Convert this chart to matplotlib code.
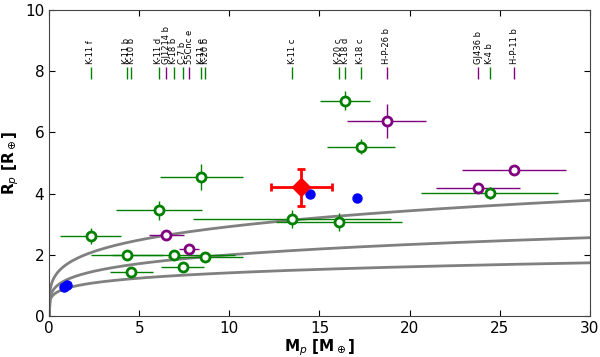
import numpy as np
import matplotlib
matplotlib.use('Agg')
import matplotlib.pyplot as plt

# planets: name, mass [M_earth], radius [R_earth], errors
names = ['K-11 f', 'K-11 b', 'K-10 b', 'K-11 d', 'GJ1214 b', 'K-18 b', 'C-7 b', '55Cnc e',
         'K-11 e', 'K-20 b', 'K-11 c', 'K-20 c', 'K-18 d', 'K-18 c', 'H-P-26 b',
         'GJ436 b', 'K-4 b', 'H-P-11 b']
mass = [2.3, 4.3, 4.55, 6.08, 6.5, 6.9, 7.41, 7.78, 8.43, 8.67, 13.48, 16.08, 16.42,
        17.3, 18.73, 23.8, 24.46, 25.8]
radius = [2.61, 1.98, 1.43, 3.45, 2.66, 2.0, 1.6, 2.2, 4.55, 1.93, 3.17, 3.08, 7.03,
          5.53, 6.37, 4.17, 4.03, 4.76]
mass_err = [1.7, 2.0, 1.2, 2.4, 0.98, 3.4, 1.2, 0.55, 2.3, 2.1, 5.5, 3.5, 1.4, 1.9,
            2.2, 2.35, 3.8, 2.9]
radius_err = [0.25, 0.05, 0.03, 0.3, 0.05, 0.1, 0.1, 0.1, 0.42, 0.1, 0.3, 0.3, 0.31,
              0.25, 0.56, 0.1, 0.2, 0.1]
# g = Kepler/CoRoT (green), p = ground based (purple)
kind = ['g', 'g', 'g', 'g', 'p', 'g', 'g', 'p', 'g', 'g', 'g', 'g', 'g', 'g', 'p',
        'p', 'g', 'p']

# solar system planets (Venus, Earth, Uranus, Neptune)
ss_mass = [0.815, 1.0, 14.5, 17.1]
ss_radius = [0.95, 1.0, 4.0, 3.87]

# new planet
new_mass = 14.0
new_mass_err = 1.7
new_radius = 4.2
new_radius_err = 0.6

# composition curves, R = a * M**b
curve_a = [1.70, 1.19, 0.91]
curve_b = [0.235, 0.225, 0.19]

colors = {'g': 'green', 'p': 'purple'}

fig = plt.figure(figsize=(6.0, 3.57), dpi=100)
ax = fig.add_axes([0.082, 0.115, 0.901, 0.857])

m = np.linspace(0, 30, 600)
for a, b in zip(curve_a, curve_b):
    ax.plot(m, a * m**b, color='gray', lw=2, zorder=1)

for i in range(len(names)):
    c = colors[kind[i]]
    ax.errorbar(mass[i], radius[i], xerr=mass_err[i], yerr=radius_err[i], fmt='o',
                color=c, ecolor=c, elinewidth=1, capsize=0, mfc='white', mec=c,
                mew=2, ms=6.5, zorder=3)
    ax.plot(mass[i], 7.95, '|', color=c, ms=8, mew=1, zorder=3)
    ax.text(mass[i], 8.22, names[i], rotation=90, ha='center', va='bottom', fontsize=6)

ax.plot(ss_mass, ss_radius, 'o', color='blue', ms=6.5, mec='blue', zorder=4)

ax.errorbar(new_mass, new_radius, xerr=new_mass_err, yerr=new_radius_err, fmt='D',
            color='red', ecolor='red', elinewidth=2, capsize=3, capthick=2, ms=9, zorder=5)

ax.set_xlim(0, 30)
ax.set_ylim(0, 10)
ax.set_xticks(range(0, 31, 5))
ax.set_yticks(range(0, 11, 2))
ax.tick_params(direction='in', top=True, right=True, labelsize=11, length=4)
for s in ax.spines.values():
    s.set_color('#444444')
ax.set_xlabel(r'M$_p$ [M$_\oplus$]', fontsize=11, fontweight='bold', labelpad=1)
ax.set_ylabel(r'R$_p$ [R$_\oplus$]', fontsize=11, fontweight='bold', labelpad=3)

fig.savefig('out.png', dpi=100)
